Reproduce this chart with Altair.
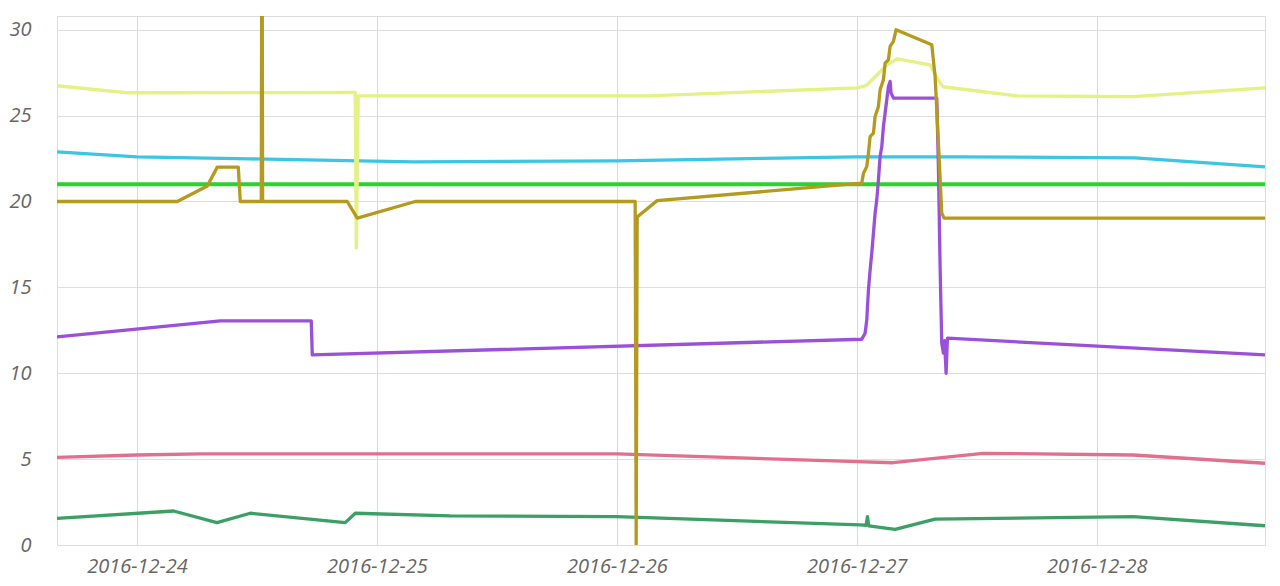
import altair as alt
import pandas as pd

# ---- data ----
yellow_t = ["2016-12-23T16:00:00Z", "2016-12-23T23:08:00Z", "2016-12-24T21:50:00Z", "2016-12-24T21:56:00Z",
            "2016-12-24T22:08:00Z", "2016-12-26T03:20:00Z", "2016-12-27T00:02:00Z", "2016-12-27T00:56:00Z",
            "2016-12-27T03:02:00Z", "2016-12-27T04:02:00Z", "2016-12-27T07:20:00Z", "2016-12-27T08:08:00Z",
            "2016-12-27T08:38:00Z", "2016-12-27T16:02:00Z", "2016-12-28T03:38:00Z", "2016-12-28T16:50:00Z"]
yellow_v = [26.74, 26.33, 26.35, 17.3, 26.15, 26.15, 26.62, 26.74, 27.96, 28.3, 27.96, 27.09, 26.68, 26.15, 26.1, 26.62]

cyan_t = ["2016-12-23T16:00:00Z", "2016-12-24T00:00:00Z", "2016-12-24T11:20:00Z", "2016-12-25T03:38:00Z",
          "2016-12-26T00:00:00Z", "2016-12-27T00:00:00Z", "2016-12-27T10:20:00Z", "2016-12-28T03:50:00Z",
          "2016-12-28T16:50:00Z"]
cyan_v = [22.89, 22.6, 22.48, 22.31, 22.37, 22.6, 22.6, 22.54, 22.02]

green_t = ["2016-12-23T16:00:00Z", "2016-12-25T12:00:00Z", "2016-12-28T16:50:00Z"]
green_v = [21.0, 21.0, 21.0]

olive_t = ["2016-12-23T16:00:00Z", "2016-12-24T04:02:00Z", "2016-12-24T07:02:00Z", "2016-12-24T08:02:00Z",
           "2016-12-24T10:08:00Z", "2016-12-24T10:20:00Z", "2016-12-24T12:26:00Z", "2016-12-24T12:28:00Z",
           "2016-12-24T12:32:00Z", "2016-12-24T12:34:00Z", "2016-12-24T21:02:00Z", "2016-12-24T22:02:00Z",
           "2016-12-25T03:50:00Z", "2016-12-26T01:50:00Z", "2016-12-26T01:56:00Z", "2016-12-26T02:02:00Z",
           "2016-12-26T04:02:00Z", "2016-12-27T00:30:00Z", "2016-12-27T00:40:00Z", "2016-12-27T01:00:00Z",
           "2016-12-27T01:10:00Z", "2016-12-27T01:20:00Z", "2016-12-27T01:40:00Z", "2016-12-27T01:50:00Z",
           "2016-12-27T02:10:00Z", "2016-12-27T02:20:00Z", "2016-12-27T02:40:00Z", "2016-12-27T02:50:00Z",
           "2016-12-27T03:10:00Z", "2016-12-27T03:20:00Z", "2016-12-27T03:40:00Z", "2016-12-27T03:56:00Z",
           "2016-12-27T07:30:00Z", "2016-12-27T07:50:00Z", "2016-12-27T08:10:00Z", "2016-12-27T08:30:00Z",
           "2016-12-27T08:44:00Z", "2016-12-28T16:50:00Z"]
olive_v = [20.0, 20.0, 20.9, 22.0, 22.0, 20.0, 20.0, 30.8, 30.8, 20.0, 20.0, 19.03, 20.0, 20.0, 0.0, 19.1,
           20.05, 21.07, 21.65, 22.04, 22.82, 23.78, 23.98, 24.95, 25.53, 26.5, 27.09, 28.06, 28.25, 29.03,
           29.32, 30.0, 29.13, 27.28, 23.4, 19.32, 19.03, 19.03]

purple_t = ["2016-12-23T16:00:00Z", "2016-12-24T08:20:00Z", "2016-12-24T17:26:00Z", "2016-12-24T17:32:00Z",
            "2016-12-27T00:30:00Z", "2016-12-27T00:50:00Z", "2016-12-27T01:00:00Z", "2016-12-27T01:10:00Z",
            "2016-12-27T01:20:00Z", "2016-12-27T01:30:00Z", "2016-12-27T01:40:00Z", "2016-12-27T01:50:00Z",
            "2016-12-27T02:00:00Z", "2016-12-27T02:10:00Z", "2016-12-27T02:20:00Z", "2016-12-27T02:30:00Z",
            "2016-12-27T02:40:00Z", "2016-12-27T03:00:00Z", "2016-12-27T03:10:00Z", "2016-12-27T03:20:00Z",
            "2016-12-27T03:26:00Z", "2016-12-27T03:40:00Z", "2016-12-27T08:00:00Z", "2016-12-27T08:10:00Z",
            "2016-12-27T08:20:00Z", "2016-12-27T08:30:00Z", "2016-12-27T08:40:00Z", "2016-12-27T08:47:00Z",
            "2016-12-27T08:56:00Z", "2016-12-27T09:04:00Z", "2016-12-28T16:50:00Z"]
purple_v = [12.12, 13.05, 13.05, 11.07, 11.98, 12.33, 13.1, 14.85, 16.0, 17.0, 18.16, 19.32, 20.1, 21.26,
            22.62, 23.2, 24.37, 25.92, 26.7, 26.99, 26.31, 26.02, 26.02, 22.04, 16.21, 11.75, 11.17, 11.9,
            10.0, 12.04, 11.07]

pink_t = ["2016-12-23T16:00:00Z", "2016-12-24T00:00:00Z", "2016-12-24T06:20:00Z", "2016-12-26T00:00:00Z",
          "2016-12-27T00:00:00Z", "2016-12-27T03:38:00Z", "2016-12-27T12:38:00Z", "2016-12-28T03:38:00Z",
          "2016-12-28T16:50:00Z"]
pink_v = [5.1, 5.24, 5.3, 5.3, 4.85, 4.79, 5.34, 5.24, 4.76]

dgreen_t = ["2016-12-23T16:00:00Z", "2016-12-24T03:40:00Z", "2016-12-24T08:00:00Z", "2016-12-24T11:20:00Z",
            "2016-12-24T20:50:00Z", "2016-12-24T21:50:00Z", "2016-12-25T07:20:00Z", "2016-12-26T00:00:00Z",
            "2016-12-27T00:20:00Z", "2016-12-27T00:56:00Z", "2016-12-27T01:04:00Z", "2016-12-27T01:12:00Z",
            "2016-12-27T03:50:00Z", "2016-12-27T07:50:00Z", "2016-12-28T03:38:00Z", "2016-12-28T16:50:00Z"]
dgreen_v = [1.55, 1.98, 1.3, 1.85, 1.3, 1.85, 1.69, 1.65, 1.17, 1.15, 1.65, 1.12, 0.91, 1.51, 1.65, 1.12]

series_names = ["green", "cyan", "yellow", "pink", "dgreen", "purple", "olive"]
series_colors = ["#2fd12f", "#3cc6e4", "#e4f184", "#e0708e", "#3b9f66", "#9a50d8", "#b59a20"]
series_data = {
    "green": (green_t, green_v), "cyan": (cyan_t, cyan_v), "yellow": (yellow_t, yellow_v),
    "pink": (pink_t, pink_v), "dgreen": (dgreen_t, dgreen_v), "purple": (purple_t, purple_v),
    "olive": (olive_t, olive_v),
}
width_by_series = {"green": 4}

rows = []
for name in series_names:
    ts, vs = series_data[name]
    for i, (t, v) in enumerate(zip(ts, vs)):
        rows.append({"series": name, "time": t, "value": v, "idx": i})
df = pd.DataFrame(rows)

day_ticks = [alt.DateTime(year=2016, month=12, date=d, utc=True) for d in [24, 25, 26, 27, 28]]
x_domain = [alt.DateTime(year=2016, month=12, date=23, hours=16, utc=True),
            alt.DateTime(year=2016, month=12, date=28, hours=16, minutes=50, utc=True)]

x_enc = alt.X("time:T",
              scale=alt.Scale(type="utc", domain=x_domain),
              axis=alt.Axis(values=day_ticks, format="%Y-%m-%d", title=None, domain=False, ticks=False,
                            grid=True, gridColor="#d9d9d9", labelPadding=11, labelFontSize=20,
                            labelFont="Open Sans", labelFontStyle="italic", labelColor="#666666",
                            labelOverlap=False, labelFlush=False))
y_enc = alt.Y("value:Q",
              scale=alt.Scale(domain=[0, 30.8], nice=False, zero=True),
              axis=alt.Axis(values=[0, 5, 10, 15, 20, 25, 30], title=None, domain=False, ticks=False,
                            grid=True, gridColor="#dedede", labelPadding=26, labelFontSize=20,
                            labelFont="Open Sans", labelFontStyle="italic", labelColor="#666666"))

layers = []
for idx, name in enumerate(series_names):
    layer = alt.Chart(df).transform_filter(alt.datum.series == name).mark_line(
        strokeWidth=width_by_series.get(name, 3.3), clip=True, color=series_colors[idx],
        strokeJoin="round").encode(
        x=x_enc, y=y_enc, order=alt.Order("idx:Q"))
    layers.append(layer)

chart = alt.layer(*layers).properties(
    width=1208, height=529,
    autosize=alt.AutoSizeParams(type="none"),
    padding={"left": 49, "top": 8, "right": 6, "bottom": 33},
).configure_view(stroke="#d0d0d0", strokeWidth=1).configure(background="white")

chart.save("out.html", embed_options={"renderer": "svg", "actions": False})
